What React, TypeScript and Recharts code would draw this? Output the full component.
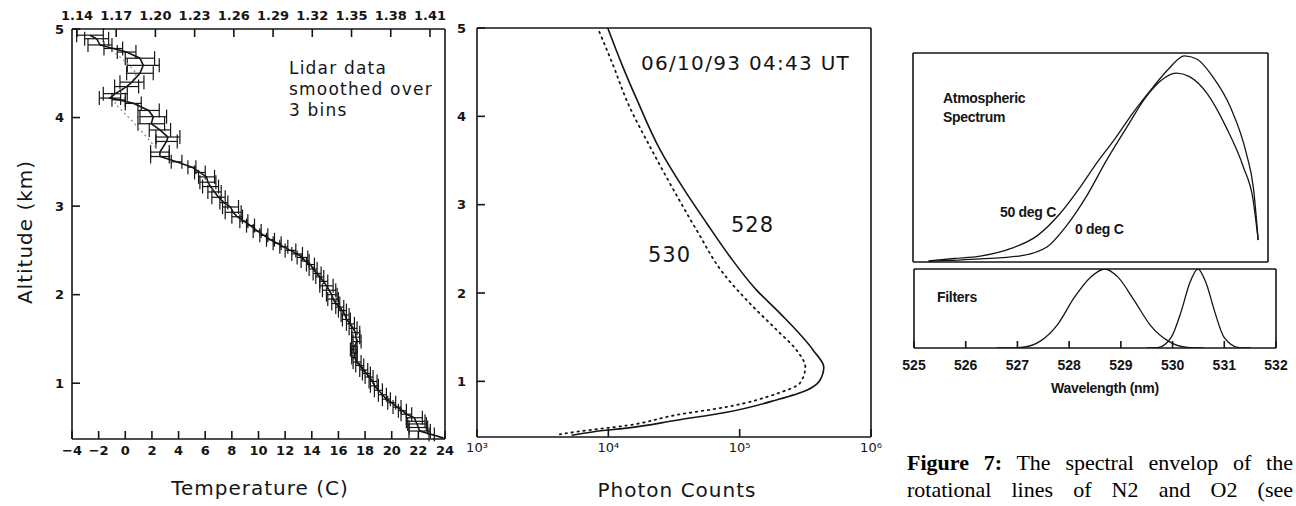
import React from 'react';
import { ScatterChart, Scatter, ErrorBar, LineChart, Line, XAxis, YAxis } from 'recharts';

const INK = '#151515';
const PLOT_FONT = '"DejaVu Sans", sans-serif';
const SPEC_FONT = '"Liberation Sans", Arial, sans-serif';
const SERIF = '"Liberation Serif", "Times New Roman", serif';

// --- left panel: lidar temperature profile (top to bottom) ---
const LIDAR_ALT = [
  4.93, 4.89, 4.82, 4.78, 4.74, 4.67, 4.59, 4.5, 4.4, 4.35, 4.27, 4.22, 4.2, 4.16, 4.08, 4.01,
  3.93, 3.86, 3.78, 3.73, 3.61, 3.56, 3.5, 3.44, 3.38, 3.33, 3.27, 3.22, 3.16, 3.1, 3.04, 2.99,
  2.93, 2.88, 2.83, 2.78, 2.72, 2.67, 2.62, 2.58, 2.54, 2.5, 2.46, 2.42, 2.38, 2.34, 2.29, 2.24,
  2.2, 2.15, 2.1, 2.05, 2.0, 1.95, 1.9, 1.86, 1.82, 1.77, 1.72, 1.67, 1.62, 1.57, 1.52, 1.47,
  1.42, 1.38, 1.34, 1.29, 1.24, 1.2, 1.15, 1.11, 1.07, 1.02, 0.97, 0.92, 0.87, 0.82, 0.78, 0.73,
  0.69, 0.65, 0.61, 0.57, 0.54, 0.5, 0.46, 0.42, 0.38,
];
const LIDAR_TEMP = [
  -2.65, -2.15, -1.9, -0.9, 0.1, 1.1, 1.35, 1.1, 0.5, 0.1, -0.75, -1.15, -0.5, 0.6, 1.75, 2.1,
  1.95, 2.6, 3.2, 3.1, 2.6, 2.6, 3.85, 5.0, 5.6, 6.1, 6.2, 6.4, 6.7, 7.0, 7.4, 7.9,
  8.1, 8.4, 8.9, 9.4, 9.9, 10.4, 10.9, 11.4, 11.9, 12.4, 12.9, 13.3, 13.5, 13.9, 14.1, 14.4,
  14.6, 14.9, 15.1, 15.3, 15.5, 15.6, 15.8, 16.1, 16.3, 16.5, 16.6, 16.9, 17.1, 17.3, 17.3, 17.4,
  17.2, 17.1, 17.2, 17.2, 17.4, 17.6, 17.9, 18.1, 18.3, 18.6, 18.7, 19.0, 19.3, 19.6, 20.0, 20.4,
  20.8, 21.1, 21.7, 21.8, 21.9, 22.0, 22.1, 23.0, 23.9,
];
const LIDAR_ERR = [
  1.0, 0.9, 0.9, 0.7, 0.7, 1.1, 1.2, 1.0, 0.9, 0.9, 0.9, 0.8, 0.5, 0.6, 0.8, 1.0,
  1.0, 0.8, 0.9, 0.8, 0.7, 0.7, 0.4, 0.3, 0.4, 0.6, 0.6, 0.6, 0.5, 0.5, 0.3, 0.6,
  0.6, 0.4, 0.3, 0.3, 0.3, 0.3, 0.3, 0.3, 0.3, 0.4, 0.4, 0.4, 0.3, 0.3, 0.3, 0.3,
  0.3, 0.3, 0.5, 0.5, 0.4, 0.4, 0.3, 0.3, 0.3, 0.3, 0.3, 0.3, 0.3, 0.3, 0.3, 0.3,
  0.2, 0.2, 0.2, 0.2, 0.3, 0.3, 0.3, 0.3, 0.3, 0.3, 0.3, 0.3, 0.3, 0.3, 0.3, 0.3,
  0.3, 0.4, 0.6, 0.7, 0.7, 0.7, 0.8, 0.2, 0,
];
const GUIDE_ALT = [4.8, 4.62, 4.5, 4.4, 4.3, 4.16, 3.9, 3.65];
const GUIDE_TEMP = [-1.3, 0.1, 0.85, 0.5, -0.3, -0.77, 0.9, 2.36];

const TEMP_TICKS = [-4, -2, 0, 2, 4, 6, 8, 10, 12, 14, 16, 18, 20, 22, 24];
const RATIO_TICKS = [1.14, 1.17, 1.2, 1.23, 1.26, 1.29, 1.32, 1.35, 1.38, 1.41];
const ALT_TICKS = [1, 2, 3, 4, 5];
const ALT_TICKS_RIGHT = [1, 2, 3, 4];

// --- middle panel: photon counts per channel (bottom to top) ---
const ALT_528 = [0.39, 0.43, 0.47, 0.56, 0.65, 0.79, 0.9, 1.01, 1.16, 1.35, 1.77, 2.03, 2.41, 2.79, 3.17, 3.62, 4.18, 4.56, 5.0];
const COUNT_528 = [5250, 7760, 13800, 33100, 79400, 191000, 324000, 407000, 437000, 364000, 203000, 135000, 84500, 56100, 37800, 24800, 16600, 12900, 9900];
const ALT_530 = [0.4, 0.43, 0.5, 0.62, 0.71, 0.86, 0.98, 1.16, 1.35, 1.58, 1.88, 2.22, 2.71, 3.17, 3.62, 4.18, 4.56, 5.0];
const COUNT_530 = [4270, 5750, 13800, 33100, 79400, 191000, 288000, 316000, 272000, 192000, 120000, 75200, 47100, 31300, 21400, 13800, 11000, 8300];
const COUNT_TICKS = [1e3, 1e4, 1e5, 1e6];

// --- right panels: atmospheric spectrum and filters ---
const WL_50C = [525.3, 525.8, 526.3, 526.9, 527.4, 527.85, 528.25, 528.55, 528.9, 529.25, 529.65, 529.95, 530.25, 530.5, 530.8, 531.15, 531.45, 531.59, 531.68];
const SPEC_50C = [0.03, 0.1, 0.17, 0.39, 0.75, 1.4, 2.18, 2.83, 3.52, 4.27, 5.03, 5.55, 5.92, 5.82, 5.32, 4.42, 3.12, 2.1, 0.63];
const WL_0C = [525.3, 526.3, 527.05, 527.6, 527.95, 528.35, 528.75, 529.15, 529.5, 529.85, 530.1, 530.35, 530.7, 531.05, 531.4, 531.58, 531.68];
const SPEC_0C = [0.02, 0.09, 0.17, 0.44, 1.0, 1.87, 2.93, 3.9, 4.72, 5.27, 5.42, 5.32, 4.82, 3.9, 2.7, 1.8, 0.63];
const WL_F528 = [526.6, 527.07, 527.45, 527.78, 528.1, 528.42, 528.69, 528.94, 529.26, 529.58, 529.91, 530.29, 530.6];
const FILTER_528 = [0, 0.05, 0.63, 2.1, 4.48, 6.3, 7.0, 6.3, 4.2, 1.96, 0.63, 0.05, 0];
const WL_F530 = [529.5, 529.71, 529.97, 530.17, 530.33, 530.49, 530.65, 530.81, 531.0, 531.29, 531.5];
const FILTER_530 = [0, 0.03, 0.91, 3.29, 5.74, 7.0, 5.74, 3.29, 0.91, 0.03, 0];
const WL_TICKS = [525, 526, 527, 528, 529, 530, 531, 532];
const SPEC_TICKS = [1, 2, 3, 4, 5];
const FILTER_TICKS = [1, 2, 3, 4, 5, 6];

const WL_MINOR: number[] = [];
for (let w = 525; w <= 532.001; w += 0.125) WL_MINOR.push(Math.round(w * 1000) / 1000);
const SPEC_MAX_WL = 531.87;

const lidarData = LIDAR_ALT.map((alt, i) => ({ alt, t: LIDAR_TEMP[i], err: LIDAR_ERR[i] }));
const guideData = GUIDE_ALT.map((alt, i) => ({ alt, t: GUIDE_TEMP[i] }));
// invisible anchor so the secondary (ratio / right) axes get their ticks
const ratioAnchor = RATIO_TICKS.map((ratio) => ({ ratio, alt: 1 }));
const counts528 = ALT_528.map((alt, i) => ({ alt, v: COUNT_528[i] }));
const counts530 = ALT_530.map((alt, i) => ({ alt, v: COUNT_530[i] }));
const toSeries = (xs: number[], ys: number[]) => xs.map((wl, i) => ({ wl, v: ys[i] }));
const spec50 = toSeries(WL_50C, SPEC_50C);
const spec0 = toSeries(WL_0C, SPEC_0C);
const filt528 = toSeries(WL_F528, FILTER_528);
const filt530 = toSeries(WL_F530, FILTER_530);

const SUP: Record<string, string> = { '3': '³', '4': '⁴', '5': '⁵', '6': '⁶' };
const powerLabel = (v: number) => '10' + SUP[String(Math.round(Math.log10(v)))];
const signed = (v: number) => (v < 0 ? '−' + Math.abs(v) : String(v));

const plotTick = { fill: INK, fontSize: 13, fontWeight: 700, fontFamily: PLOT_FONT };
const specTick = { fill: INK, fontSize: 14, fontWeight: 700, fontFamily: SPEC_FONT };
const noDot = () => <g />;

const centered = (x: number, y: number, extra: React.CSSProperties = {}): React.CSSProperties => ({
  position: 'absolute', left: x, top: y, transform: 'translate(-50%, -50%)', whiteSpace: 'nowrap', lineHeight: 1, color: INK, ...extra,
});
const leftMid = (x: number, y: number, extra: React.CSSProperties = {}): React.CSSProperties => ({
  position: 'absolute', left: x, top: y, transform: 'translateY(-50%)', whiteSpace: 'nowrap', lineHeight: 1, color: INK, ...extra,
});

const TemperaturePanel = () => (
  <ScatterChart width={460} height={506} margin={{ top: 0, right: 0, bottom: 0, left: 0 }}>
    <XAxis type="number" dataKey="t" domain={[-4, 24]} allowDataOverflow ticks={TEMP_TICKS} interval={0}
      height={67} tickSize={-8} tickMargin={15} stroke={INK} strokeWidth={1.6} tick={plotTick} tickFormatter={signed} />
    <XAxis xAxisId="top" orientation="top" type="number" dataKey="ratio" domain={[1.1362, 1.4215]} allowDataOverflow
      ticks={RATIO_TICKS} interval={0} height={29} tickSize={-8} tickMargin={17} stroke={INK} strokeWidth={1.6}
      tick={plotTick} tickFormatter={(v: number) => v.toFixed(2)} />
    <YAxis type="number" dataKey="alt" domain={[0.37, 5]} allowDataOverflow ticks={ALT_TICKS} interval={0}
      width={72} tickSize={-8} tickMargin={16} stroke={INK} strokeWidth={1.6} tick={plotTick} />
    <YAxis yAxisId="r" orientation="right" type="number" dataKey="alt" domain={[0.37, 5]} allowDataOverflow
      ticks={ALT_TICKS_RIGHT} interval={0} width={15} tickSize={-8} stroke={INK} strokeWidth={1.6} tick={false} />
    <Scatter data={ratioAnchor} xAxisId="top" yAxisId="r" shape={noDot} isAnimationActive={false} />
    <Scatter data={guideData} line={{ stroke: '#8a8a8a', strokeWidth: 1.2, strokeDasharray: '2 3' }} shape={noDot}
      isAnimationActive={false} />
    <Scatter data={lidarData} line={{ stroke: INK, strokeWidth: 1.6 }} shape={noDot} isAnimationActive={false}>
      <ErrorBar dataKey="err" direction="x" width={7} stroke={INK} strokeWidth={1.2} isAnimationActive={false} />
    </Scatter>
  </ScatterChart>
);

const CountsPanel = () => (
  <LineChart layout="vertical" width={440} height={506} margin={{ top: 0, right: 0, bottom: 0, left: 0 }}>
    <XAxis type="number" scale="log" domain={[1e3, 1e6]} allowDataOverflow ticks={COUNT_TICKS} interval={0}
      height={69} tickSize={-8} tickMargin={14} stroke={INK} strokeWidth={1.6}
      tick={{ ...plotTick, fontWeight: 400 }} tickFormatter={powerLabel} />
    <XAxis xAxisId="top" orientation="top" type="number" scale="log" domain={[1e3, 1e6]} allowDataOverflow
      ticks={[1e4, 1e5]} interval={0} height={28} tickSize={-8} stroke={INK} strokeWidth={1.6} tick={false} />
    <YAxis type="number" dataKey="alt" reversed domain={[0.37, 5]} allowDataOverflow ticks={ALT_TICKS} interval={0}
      width={27} tickSize={-8} tickMargin={19} stroke={INK} strokeWidth={1.6} tick={plotTick} />
    <YAxis yAxisId="r" orientation="right" type="number" dataKey="alt" reversed domain={[0.37, 5]} allowDataOverflow
      ticks={ALT_TICKS_RIGHT} interval={0} width={19} tickSize={-8} stroke={INK} strokeWidth={1.6} tick={false} />
    <Line data={counts528} dataKey="v" xAxisId="top" yAxisId="r" stroke="none" dot={false} isAnimationActive={false} />
    <Line data={counts530} dataKey="v" type="monotone" stroke={INK} strokeWidth={1.8} strokeDasharray="1.5 4.5"
      strokeLinecap="round" dot={false} isAnimationActive={false} />
    <Line data={counts528} dataKey="v" type="monotone" stroke={INK} strokeWidth={1.6} dot={false} isAnimationActive={false} />
  </LineChart>
);

const SpectrumPanel = () => (
  <LineChart width={380} height={230} margin={{ top: 0, right: 0, bottom: 0, left: 0 }}>
    <XAxis type="number" dataKey="wl" domain={[525, SPEC_MAX_WL]} allowDataOverflow
      ticks={WL_MINOR.filter((w) => w <= SPEC_MAX_WL)} interval={0} height={8} tickSize={-3} stroke={INK}
      strokeWidth={1.6} tick={false} />
    <XAxis xAxisId="major" type="number" dataKey="wl" domain={[525, SPEC_MAX_WL]} allowDataOverflow
      ticks={WL_TICKS.slice(1, 7)} interval={0} mirror tickSize={7} axisLine={false} stroke={INK} tick={false} />
    <XAxis xAxisId="top" orientation="top" type="number" dataKey="wl" domain={[525, SPEC_MAX_WL]} allowDataOverflow
      height={13} tickLine={false} tick={false} stroke={INK} strokeWidth={1.6} />
    <YAxis type="number" domain={[0, 6]} allowDataOverflow ticks={SPEC_TICKS} interval={0} width={13} tickSize={-5}
      stroke={INK} strokeWidth={1.6} tick={false} />
    <YAxis yAxisId="r" orientation="right" type="number" domain={[0, 6]} allowDataOverflow width={12} tickLine={false}
      tick={false} stroke={INK} strokeWidth={1.6} />
    <Line data={spec50} dataKey="v" xAxisId="major" yAxisId="r" stroke="none" dot={false} isAnimationActive={false} />
    <Line data={spec50} dataKey="v" xAxisId="top" stroke="none" dot={false} isAnimationActive={false} />
    <Line data={spec50} dataKey="v" type="monotone" stroke={INK} strokeWidth={1.3} dot={false} isAnimationActive={false} />
    <Line data={spec0} dataKey="v" type="monotone" stroke={INK} strokeWidth={1.3} dot={false} isAnimationActive={false} />
  </LineChart>
);

const FilterPanel = () => (
  <LineChart width={390} height={140} margin={{ top: 0, right: 0, bottom: 0, left: 0 }}>
    <XAxis type="number" dataKey="wl" domain={[525, 532]} allowDataOverflow ticks={WL_TICKS} interval={0} height={54}
      tickSize={-7} tickMargin={19} stroke={INK} strokeWidth={1.6} tick={specTick} />
    <XAxis xAxisId="minor" type="number" dataKey="wl" domain={[525, 532]} allowDataOverflow ticks={WL_MINOR}
      interval={0} mirror tickSize={3} axisLine={false} stroke={INK} tick={false} />
    <XAxis xAxisId="top" orientation="top" type="number" dataKey="wl" domain={[525, 532]} allowDataOverflow
      height={7} tickLine={false} tick={false} stroke={INK} strokeWidth={1.6} />
    <YAxis type="number" domain={[0, 7]} allowDataOverflow ticks={FILTER_TICKS} interval={0} width={14} tickSize={-5}
      stroke={INK} strokeWidth={1.6} tick={false} />
    <YAxis yAxisId="r" orientation="right" type="number" domain={[0, 7]} allowDataOverflow width={14} tickLine={false}
      tick={false} stroke={INK} strokeWidth={1.6} />
    <Line data={filt528} dataKey="v" xAxisId="minor" yAxisId="r" stroke="none" dot={false} isAnimationActive={false} />
    <Line data={filt528} dataKey="v" xAxisId="top" stroke="none" dot={false} isAnimationActive={false} />
    <Line data={filt528} dataKey="v" type="monotone" stroke={INK} strokeWidth={1.3} dot={false} isAnimationActive={false} />
    <Line data={filt530} dataKey="v" type="monotone" stroke={INK} strokeWidth={1.3} dot={false} isAnimationActive={false} />
  </LineChart>
);

export default function App() {
  const plotTitle: React.CSSProperties = { fontFamily: PLOT_FONT, fontSize: 20, letterSpacing: 1 };
  const note: React.CSSProperties = { fontFamily: PLOT_FONT, fontSize: 17, letterSpacing: 1.2 };
  const spec: React.CSSProperties = { fontFamily: SPEC_FONT, fontSize: 14, fontWeight: 700, letterSpacing: -0.3 };
  const caption: React.CSSProperties = {
    position: 'absolute', left: 907, width: 386, fontFamily: SERIF, fontSize: 22, lineHeight: 1, color: '#000',
    textAlign: 'justify', textAlignLast: 'justify', whiteSpace: 'nowrap',
  };
  return (
    <div style={{ position: 'absolute', left: 0, top: 0, width: 1296, height: 506, background: '#fff', overflow: 'hidden' }}>
      <div style={{ position: 'absolute', left: 0, top: 0 }}><TemperaturePanel /></div>
      <div style={{ position: 'absolute', left: 450, top: 0 }}><CountsPanel /></div>
      <div style={{ position: 'absolute', left: 900, top: 40 }}><SpectrumPanel /></div>
      <div style={{ position: 'absolute', left: 900, top: 262 }}><FilterPanel /></div>

      <div style={centered(25, 232, { ...plotTitle, transform: 'translate(-50%, -50%) rotate(-90deg)' })}>Altitude (km)</div>
      <div style={centered(260, 488, plotTitle)}>Temperature (C)</div>
      <div style={leftMid(289, 68, note)}>Lidar data</div>
      <div style={leftMid(289, 89, note)}>smoothed over</div>
      <div style={leftMid(289, 110, note)}>3 bins</div>

      <div style={centered(677, 490, plotTitle)}>Photon Counts</div>
      <div style={leftMid(641, 63, { ...plotTitle, letterSpacing: 1.3 })}>06/10/93 04:43 UT</div>
      <div style={leftMid(731, 225, { ...plotTitle, fontSize: 21 })}>528</div>
      <div style={leftMid(648, 255, { ...plotTitle, fontSize: 21 })}>530</div>

      <div style={leftMid(943, 98, spec)}>Atmospheric</div>
      <div style={leftMid(943, 117, spec)}>Spectrum</div>
      <div style={leftMid(1000, 212, spec)}>50 deg C</div>
      <div style={leftMid(1075, 229, spec)}>0 deg C</div>
      <div style={leftMid(937, 297, spec)}>Filters</div>
      <div style={centered(1105, 388, spec)}>Wavelength (nm)</div>

      <div style={{ ...caption, top: 452 }}><b>Figure 7:</b> The spectral envelop of the</div>
      <div style={{ ...caption, top: 479 }}>rotational lines of N2 and O2 (see</div>
    </div>
  );
}
